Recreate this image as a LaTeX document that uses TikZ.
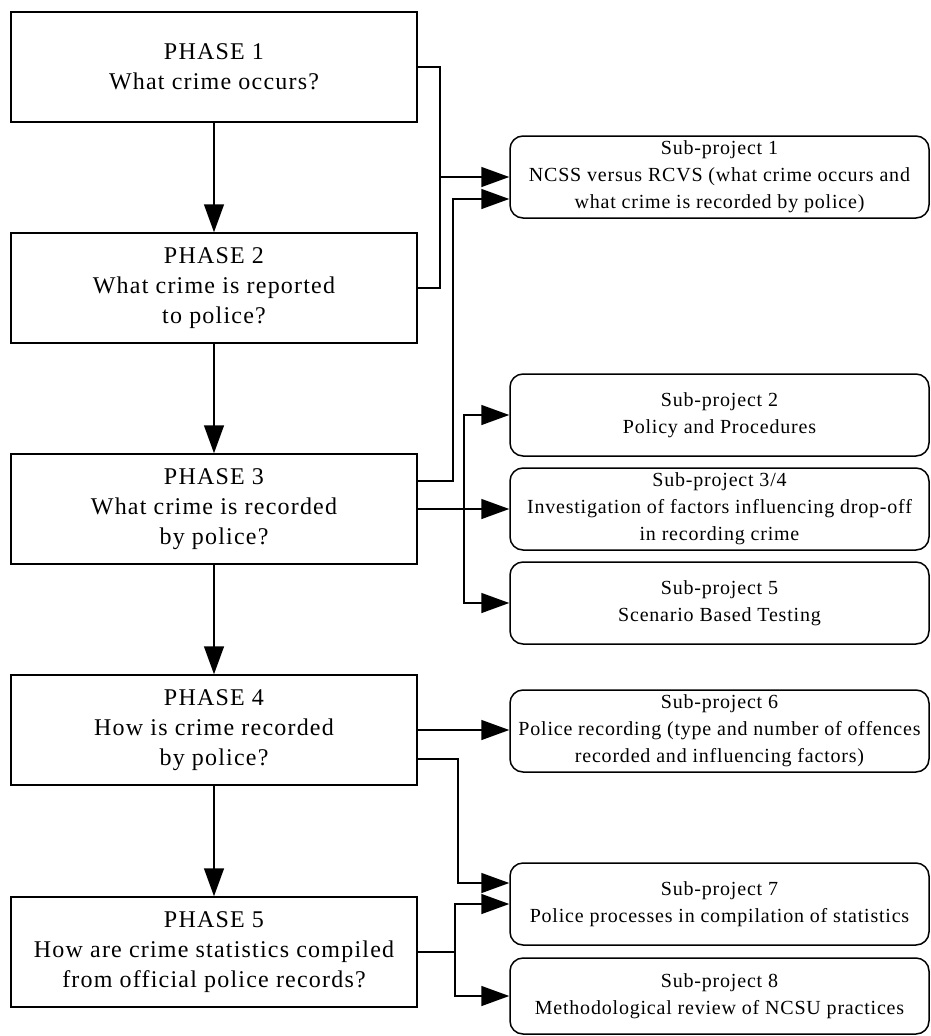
\documentclass[tikz,border=0pt]{standalone}
\usepackage{fontspec}
\usepackage{xcolor}
\usetikzlibrary{arrows.meta}
\newfontfamily\phasefont{Liberation Serif}[LetterSpace=5]
\newfontfamily\subfont{Liberation Serif}[LetterSpace=4]
\begin{document}
\begin{tikzpicture}[x=1pt, y=-1pt, line width=1.5pt,
    phase/.style={draw, rectangle, minimum width=406pt, minimum height=110pt, align=center, inner sep=0pt, font=\phasefont\fontsize{24}{30}\selectfont},
    subproj/.style={draw, rectangle, rounded corners=13pt, minimum width=419pt, minimum height=82pt, align=center, inner sep=0pt, font=\subfont\fontsize{20}{27}\selectfont},
    arr/.style={-{Triangle[length=28pt, width=20pt]}}]
    \useasboundingbox (0,0) rectangle (931,1036);
    \node[phase] (p1) at (214,67) {PHASE 1\\What crime occurs?};
    \node[phase] (p2) at (214,288) {PHASE 2\\What crime is reported\\to police?};
    \node[phase] (p3) at (214,509) {PHASE 3\\What crime is recorded\\by police?};
    \node[phase] (p4) at (214,730) {PHASE 4\\How is crime recorded\\by police?};
    \node[phase] (p5) at (214,952) {PHASE 5\\How are crime statistics compiled\\from official police records?};
    \node[subproj] (s1) at (719.5,177) {Sub-project 1\\NCSS versus RCVS (what crime occurs and\\what crime is recorded by police)};
    \node[subproj] (s2) at (719.5,415) {Sub-project 2\\Policy and Procedures};
    \node[subproj] (s34) at (719.5,509) {Sub-project 3/4\\Investigation of factors influencing drop-off\\in recording crime};
    \node[subproj] (s5) at (719.5,603) {Sub-project 5\\Scenario Based Testing};
    \node[subproj] (s6) at (719.5,731) {Sub-project 6\\Police recording (type and number of offences\\recorded and influencing factors)};
    \node[subproj] (s7) at (719.5,904) {Sub-project 7\\Police processes in compilation of statistics};
    \node[subproj, minimum height=76pt] (s8) at (719.5,996) {Sub-project 8\\Methodological review of NCSU practices};
    \coordinate (j1) at (440,177);
    \coordinate (j2) at (453,199);
    \coordinate (j3) at (464,509);
    \coordinate (j4) at (458,883);
    \coordinate (j5) at (455,952);
    \draw[arr] (p1) -- (p2);
    \draw[arr] (p2) -- (p3);
    \draw[arr] (p3) -- (p4);
    \draw[arr] (p4) -- (p5);
    \draw (p1.east) -| (j1);
    \draw (p2.east) -| (j1);
    \draw[arr] (j1) -- (s1.west |- j1);
    \draw[arr] ([yshift=28pt]p3.east) -| (j2) -- (s1.west |- j2);
    \draw[arr] (p3.east) -- (s34.west);
    \draw[arr] (j3) |- (s2.west);
    \draw[arr] (j3) |- (s5.west);
    \draw[arr] (p4.east) -- (p4.east -| s6.west);
    \draw[arr] ([yshift=-29pt]p4.east) -| (j4) -- (s7.west |- j4);
    \draw (p5.east) -- (j5);
    \draw[arr] (j5) |- (s7.west);
    \draw[arr] (j5) |- (s8.west);
\end{tikzpicture}
\end{document}
